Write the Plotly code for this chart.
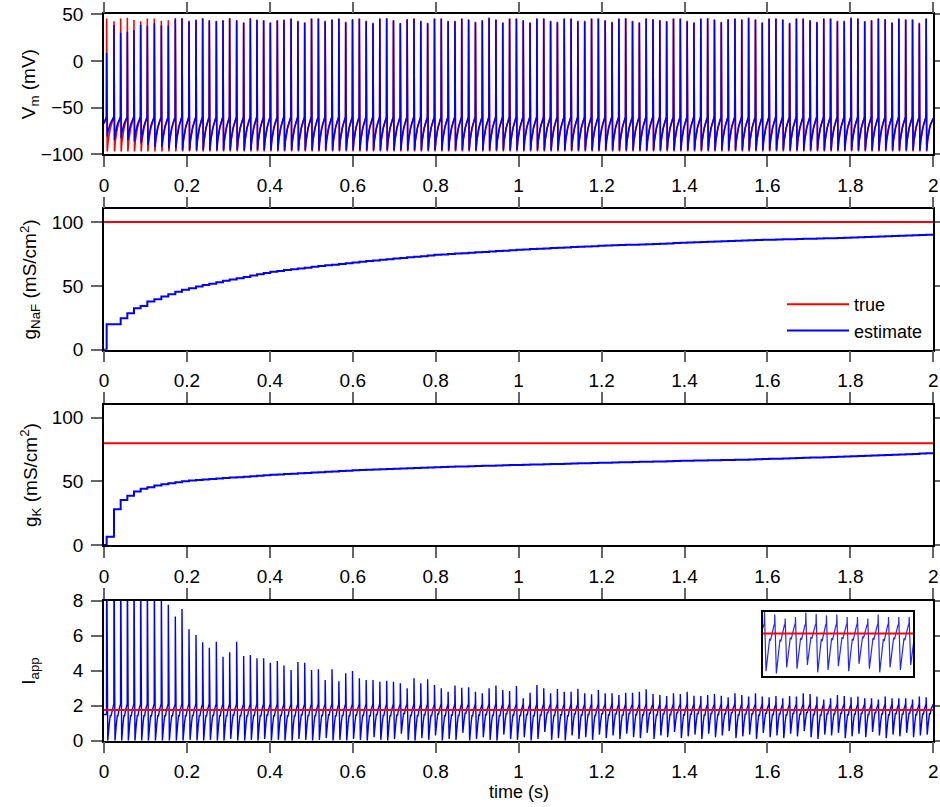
import plotly.graph_objects as go

# ---------------------------------------------------------------- data
# spike times (s), one entry per action potential
spike_t = [
    0.0064, 0.0241, 0.0402, 0.0563, 0.0723, 0.0884, 0.1045, 0.1214, 0.1383, 0.1551,
    0.1720, 0.1881, 0.2050, 0.2219, 0.2379, 0.2540, 0.2709, 0.2870, 0.3030, 0.3199,
    0.3368, 0.3529, 0.3689, 0.3850, 0.4011, 0.4180, 0.4340, 0.4511, 0.4676, 0.4840,
    0.5005, 0.5170, 0.5334, 0.5499, 0.5664, 0.5829, 0.5993, 0.6158, 0.6323, 0.6487,
    0.6652, 0.6817, 0.6981, 0.7146, 0.7311, 0.7476, 0.7640, 0.7805, 0.7970, 0.8134,
    0.8299, 0.8464, 0.8628, 0.8793, 0.8958, 0.9123, 0.9287, 0.9452, 0.9617, 0.9781,
    0.9946, 1.0111, 1.0275, 1.0440, 1.0605, 1.0770, 1.0934, 1.1099, 1.1264, 1.1428,
    1.1593, 1.1758, 1.1922, 1.2087, 1.2252, 1.2417, 1.2581, 1.2746, 1.2911, 1.3075,
    1.3240, 1.3405, 1.3569, 1.3734, 1.3899, 1.4064, 1.4228, 1.4393, 1.4558, 1.4722,
    1.4887, 1.5052, 1.5216, 1.5381, 1.5546, 1.5711, 1.5875, 1.6040, 1.6205, 1.6369,
    1.6534, 1.6699, 1.6863, 1.7028, 1.7193, 1.7358, 1.7522, 1.7687, 1.7852, 1.8016,
    1.8181, 1.8346, 1.8510, 1.8675, 1.8840, 1.9005, 1.9169, 1.9334, 1.9499, 1.9663,
    1.9828,
]

# membrane potential: spike peaks (mV)
vm_true_peak = [
    45.5, 42.5, 45.5, 46.4, 44.0, 42.5, 45.5, 45.5, 43.0, 43.5, 46.0, 46.0, 43.0, 44.5,
    46.0, 44.0, 43.0, 44.0, 46.0, 44.0, 41.5, 46.0, 44.5, 44.0, 41.5, 44.0, 44.5,
    45.7, 43.2, 41.4, 45.7, 45.7, 43.2, 44.6, 45.7, 42.1, 45.0, 45.7, 43.2, 41.0, 45.7,
    46.0, 43.9,
    41.0, 45.0, 45.7, 43.2, 41.0, 45.7, 45.7, 43.2, 43.2, 45.7, 44.6, 42.1, 43.9, 46.7,
    44.6, 41.4, 45.7, 45.7, 43.9, 41.4, 45.7, 45.7, 43.2, 42.1, 45.7, 45.7, 43.2, 43.2,
    45.7, 45.7,
    43.9, 42.1, 45.7, 46.0, 43.2, 41.4, 45.7, 45.0, 43.9, 42.8, 45.7, 45.7, 43.2, 41.4,
    45.7, 46.0, 44.6, 42.1, 45.0, 45.7,
    44.6, 46.7, 44.6, 41.4, 45.7, 45.7, 44.6, 41.0, 45.7, 45.7, 43.9, 42.1, 45.7, 45.7,
    43.2, 43.2, 46.7, 45.7, 42.8, 43.9, 45.7, 45.0, 41.4, 45.7, 44.6, 44.6, 41.0, 45.7,
]
vm_est_peak_early = [8.9, 38.5, 30.3, 31.4, 33.2, 38.5, 37.5, 40.3, 38.0, 38.0, 44.5]
vm_est_peak_shortfall = 0.8          # later estimated peaks sit just under the true ones

# membrane potential: after-hyperpolarisation troughs (mV)
vm_true_trough = -97.0
vm_est_trough_early = [-81.0, -84.6, -82.8, -84.6, -86.4, -88.2, -90.0, -91.8, -91.8,
                       -93.6, -93.6]
vm_est_trough_late = -95.5
vm_start = -67.0
vm_threshold = -60.0
# recovery between spikes: (fraction of the interval, fraction trough -> threshold)
vm_recovery_phase = [0.20, 0.35, 0.50, 0.65, 0.80, 0.95]
vm_recovery_frac = [0.30, 0.52, 0.67, 0.78, 0.87, 0.96]

# conductance estimates after each spike (mS/cm^2)
gnaf_true = 100.0
gnaf_est = [
    19.9, 20.0, 24.6, 28.6, 32.5, 34.3, 37.7, 39.5, 41.6, 43.5, 45.5, 46.9, 48.2, 49.5,
    50.6, 51.7, 52.8, 54.0, 55.0, 56.0, 57.0, 58.2, 59.1, 60.0, 61.0, 61.7, 62.4, 63.1,
    63.7, 64.3, 64.9, 65.5, 66.1, 66.6, 67.2, 67.8, 68.4, 68.9, 69.4, 69.9, 70.4, 70.9,
    71.4, 71.9, 72.4, 72.9, 73.3, 73.8, 74.3, 74.6, 75.0, 75.3, 75.6, 76.0, 76.3, 76.6,
    77.0, 77.3, 77.6, 78.0, 78.3, 78.6, 78.8, 79.1, 79.3, 79.6, 79.9, 80.1, 80.4, 80.6,
    80.9, 81.1, 81.4, 81.6, 81.8, 82.0, 82.2, 82.3, 82.5, 82.7, 82.9, 83.1, 83.3, 83.5,
    83.7, 83.9, 84.1, 84.3, 84.5, 84.7, 84.9, 85.1, 85.3, 85.5, 85.7, 85.9, 86.1, 86.2,
    86.4, 86.5, 86.6, 86.8, 86.9, 87.0, 87.2, 87.3, 87.4, 87.6, 87.7, 87.9, 88.1, 88.3,
    88.5, 88.7, 88.9, 89.1, 89.3, 89.5, 89.6, 89.8, 90.0,
]
gk_true = 80.0
gk_est = [
    6.5, 28.1, 35.4, 38.6, 42.0, 44.1, 45.4, 46.7, 47.8, 48.6, 49.3, 50.0, 50.6, 51.0,
    51.4, 51.8, 52.2, 52.6, 53.0, 53.3, 53.6, 54.0, 54.4, 54.8, 55.1, 55.4, 55.7, 56.0,
    56.3, 56.6, 56.9, 57.2, 57.5, 57.8, 58.1, 58.4, 58.7, 58.9, 59.1, 59.3, 59.5, 59.7,
    59.9, 60.1, 60.3, 60.5, 60.7, 60.9, 61.1, 61.3, 61.4, 61.6, 61.7, 61.9, 62.0, 62.2,
    62.3, 62.5, 62.6, 62.8, 62.9, 63.0, 63.2, 63.3, 63.4, 63.6, 63.7, 63.9, 64.0, 64.2,
    64.3, 64.5, 64.6, 64.7, 64.9, 65.0, 65.1, 65.2, 65.4, 65.5, 65.6, 65.7, 65.8, 66.0,
    66.1, 66.2, 66.3, 66.4, 66.5, 66.6, 66.7, 66.8, 66.9, 67.0, 67.2, 67.3, 67.5, 67.7,
    67.8, 68.0, 68.2, 68.3, 68.5, 68.7, 68.8, 69.0, 69.2, 69.3, 69.5, 69.7, 69.9, 70.1,
    70.3, 70.5, 70.7, 70.9, 71.1, 71.3, 71.5, 71.8, 72.0,
]

# applied current: true value and estimate peaks / troughs per cycle
iapp_true = 1.75
iapp_peak = [
    12.0, 11.5, 11.0, 10.8, 10.2, 9.8, 9.4, 9.0, 8.6, 7.77,
    7.09, 7.53, 6.37, 6.04, 5.62, 5.31, 5.66, 4.80, 5.05, 5.66,
    4.84, 4.90, 4.71, 4.71, 4.46, 4.55, 4.29, 4.04, 4.50, 4.46,
    4.04, 4.08, 3.47, 4.08, 3.40, 3.85, 3.98, 3.57, 3.47, 3.47,
    3.37, 3.43, 3.37, 3.28, 2.99, 3.57, 3.28, 3.51, 3.18, 2.99,
    2.80, 3.15, 3.03, 3.05, 2.80, 2.71, 2.99, 3.15, 2.90, 2.84,
    3.13, 2.42, 2.74, 3.18, 2.99, 2.71, 2.95, 2.80, 2.80, 2.97,
    2.71, 2.65, 2.90, 2.71, 2.71, 2.61, 2.74, 2.74, 2.80, 2.94,
    2.67, 2.61, 2.55, 2.71, 2.67, 2.80, 2.57, 2.55, 2.61, 2.67,
    2.57, 2.48, 2.71, 2.61, 2.52, 2.71, 2.52, 2.48, 2.55, 2.42,
    2.55, 2.52, 2.71, 2.67, 2.52, 2.36, 2.42, 2.61, 2.55, 2.48,
    2.52, 2.42, 2.42, 2.36, 2.52, 2.42, 2.42, 2.42, 2.36, 2.52,
    2.48,
]
iapp_trough = [
    0.00, 0.00, 0.00, 0.00, 0.00, 0.00, 0.00, 0.00, 0.00, 0.00,
    0.00, 0.00, 0.05, 0.00, 0.00, 0.05, 0.00, 0.00, 0.10, 0.00,
    0.00, 0.05, 0.00, 0.10, 0.00, 0.05, 0.00, 0.00, 0.10, 0.05,
    0.00, 0.05, 0.15, 0.00, 0.05, 0.00, 0.10, 0.05, 0.00, 0.20,
    0.05, 0.00, 0.10, 0.40, 0.05, 0.00, 0.15, 0.05, 0.30, 0.00,
    0.10, 0.05, 0.45, 0.00, 0.10, 0.20, 0.05, 0.00, 0.35, 0.10,
    0.05, 0.20, 0.00, 0.10, 0.50, 0.05, 0.15, 0.00, 0.30, 0.10,
    0.20, 0.05, 0.35, 0.15, 0.30, 0.10, 0.40, 0.20, 0.15, 0.45,
    0.10, 0.30, 0.20, 0.50, 0.15, 0.25, 0.35, 0.10, 0.40, 0.20,
    0.30, 0.55, 0.15, 0.25, 0.35, 0.10, 0.45, 0.20, 0.30, 0.15,
    0.40, 0.25, 0.55, 0.20, 0.10, 0.35, 0.30, 0.45, 0.15, 0.25,
    0.40, 0.20, 0.50, 0.30, 0.15, 0.35, 0.25, 0.45, 0.20, 0.30,
    0.35,
]
iapp_start = 1.5
iapp_top = 2.1
iapp_fall_phase = 0.15
iapp_recovery_phase = [0.35, 0.50, 0.58, 0.75, 0.93]
iapp_recovery_frac = [0.45, 0.70, 0.66, 0.85, 1.00]

# axes
t_end = 2.0
x_ticks = [0, 0.2, 0.4, 0.6, 0.8, 1.0, 1.2, 1.4, 1.6, 1.8, 2.0]
x_tick_text = ["0", "0.2", "0.4", "0.6", "0.8", "1", "1.2", "1.4", "1.6", "1.8", "2"]
vm_ticks = [-100, -50, 0, 50]
vm_tick_text = ["\u2212100", "\u221250", "0", "50"]
g_ticks = [0, 50, 100]
iapp_ticks = [0, 2, 4, 6, 8]
inset_t_range = [1.70, 1.94]
inset_i_range = [0.0, 2.64]

RED = "#ff0000"
BLUE = "#0000ff"
FONT = "Liberation Sans, Arial, Helvetica, sans-serif"
FS = 19


# ---------------------------------------------------------------- traces
def interval(k):
    if k + 1 < len(spike_t):
        return spike_t[k + 1] - spike_t[k]
    return spike_t[k] - spike_t[k - 1]


def vm_trace(peaks, troughs):
    xs, ys = [0.0], [vm_start]
    for k, tk in enumerate(spike_t):
        T = interval(k)
        xs += [tk - 0.03 * T, tk, tk + 0.08 * T]
        ys += [vm_threshold, peaks[k], troughs[k]]
        for ph, fr in zip(vm_recovery_phase, vm_recovery_frac):
            xs.append(tk + ph * T)
            ys.append(troughs[k] + fr * (vm_threshold - troughs[k]))
    xs.append(t_end)
    ys.append(ys[-1])
    return xs, ys


def iapp_trace():
    xs, ys = [0.0], [iapp_start]
    for k, tk in enumerate(spike_t):
        T = interval(k)
        lo = iapp_trough[k]
        xs += [tk - 0.02 * T, tk, tk + iapp_fall_phase * T]
        ys += [iapp_top if k else iapp_start, iapp_peak[k], lo]
        for ph, fr in zip(iapp_recovery_phase, iapp_recovery_frac):
            xs.append(tk + ph * T)
            ys.append(lo + fr * (iapp_top - lo))
    xs.append(t_end)
    ys.append(ys[-1])
    return xs, ys


n_spk = len(spike_t)
vm_est_peak = vm_est_peak_early + [p - vm_est_peak_shortfall
                                   for p in vm_true_peak[len(vm_est_peak_early):]]
vm_est_trough = vm_est_trough_early + [vm_est_trough_late] * (n_spk - len(vm_est_trough_early))

vt_x, vt_y = vm_trace(vm_true_peak, [vm_true_trough] * n_spk)
ve_x, ve_y = vm_trace(vm_est_peak, vm_est_trough)
ia_x, ia_y = iapp_trace()

step_x = [0.0] + spike_t + [t_end]
gnaf_y = [0.0] + gnaf_est + [gnaf_est[-1]]
gk_y = [0.0] + gk_est + [gk_est[-1]]

fig = go.Figure()
line_w = 1.6

fig.add_trace(go.Scatter(x=vt_x, y=vt_y, mode="lines", line=dict(color=RED, width=line_w),
                         xaxis="x", yaxis="y", showlegend=False))
fig.add_trace(go.Scatter(x=ve_x, y=ve_y, mode="lines", line=dict(color=BLUE, width=line_w),
                         xaxis="x", yaxis="y", showlegend=False))

fig.add_trace(go.Scatter(x=[0, t_end], y=[gnaf_true, gnaf_true], mode="lines", name="true",
                         line=dict(color=RED, width=2), xaxis="x2", yaxis="y2"))
fig.add_trace(go.Scatter(x=step_x, y=gnaf_y, mode="lines", name="estimate", line_shape="hv",
                         line=dict(color=BLUE, width=2), xaxis="x2", yaxis="y2"))

fig.add_trace(go.Scatter(x=[0, t_end], y=[gk_true, gk_true], mode="lines",
                         line=dict(color=RED, width=2), xaxis="x3", yaxis="y3", showlegend=False))
fig.add_trace(go.Scatter(x=step_x, y=gk_y, mode="lines", line_shape="hv",
                         line=dict(color=BLUE, width=2), xaxis="x3", yaxis="y3", showlegend=False))

fig.add_trace(go.Scatter(x=ia_x, y=ia_y, mode="lines", line=dict(color=BLUE, width=1.4),
                         xaxis="x4", yaxis="y4", showlegend=False))
fig.add_trace(go.Scatter(x=[0, t_end], y=[iapp_true, iapp_true], mode="lines",
                         line=dict(color=RED, width=2), xaxis="x4", yaxis="y4", showlegend=False))

fig.add_trace(go.Scatter(x=ia_x, y=ia_y, mode="lines", line=dict(color=BLUE, width=1.2),
                         opacity=0.85, xaxis="x5", yaxis="y5", showlegend=False))
fig.add_trace(go.Scatter(x=inset_t_range, y=[iapp_true, iapp_true], mode="lines",
                         line=dict(color=RED, width=2), xaxis="x5", yaxis="y5", showlegend=False))

# ---------------------------------------------------------------- layout
W, H = 940, 807
x_dom = [104 / W, 933.3 / W]
panels = [(14.3, 154.3), (209.3, 349.7), (405.0, 545.0), (600.7, 740.7)]
y_doms = [[1 - b / H, 1 - t / H] for t, b in panels]

axis_common = dict(showline=True, linecolor="black", linewidth=1.5, mirror="ticks",
                   ticks="outside", ticklen=11, tickwidth=1.5, tickcolor="#666666",
                   showgrid=False, zeroline=False, automargin=False,
                   tickfont=dict(family=FONT, size=FS, color="black"))

layout = dict(width=W, height=H, margin=dict(l=0, r=0, t=0, b=0, pad=0, autoexpand=False),
              paper_bgcolor="white", plot_bgcolor="white", font=dict(family=FONT, size=FS))
y_specs = [
    dict(range=[-100, 50], tickvals=vm_ticks, ticktext=vm_tick_text),
    dict(range=[0, 110], tickvals=g_ticks),
    dict(range=[0, 110], tickvals=g_ticks),
    dict(range=[0, 8], tickvals=iapp_ticks),
]
for i in range(4):
    sfx = "" if i == 0 else str(i + 1)
    layout["xaxis" + sfx] = dict(axis_common, domain=x_dom, range=[0, t_end], anchor="y" + sfx,
                                 tickvals=x_ticks, ticktext=x_tick_text, ticklabelstandoff=2)
    layout["yaxis" + sfx] = dict(axis_common, domain=y_doms[i], anchor="x" + sfx,
                                 ticklabelstandoff=4, **y_specs[i])

layout["xaxis5"] = dict(domain=[762.7 / W, 913.3 / W], range=inset_t_range, anchor="y5",
                        showline=True, mirror=True, linecolor="black", linewidth=2,
                        showticklabels=False, ticks="", showgrid=False, zeroline=False,
                        automargin=False)
layout["yaxis5"] = dict(domain=[1 - 676 / H, 1 - 611.7 / H], range=inset_i_range, anchor="x5",
                        showline=True, mirror=True, linecolor="black", linewidth=2,
                        showticklabels=False, ticks="", showgrid=False, zeroline=False,
                        automargin=False)

layout["legend"] = dict(x=782 / W, y=1 - 286 / H, xanchor="left", yanchor="top",
                        bgcolor="rgba(0,0,0,0)",
                        font=dict(family=FONT, size=FS - 1, color="black"),
                        itemwidth=62, tracegroupgap=0)

titles = ["V<sub>m</sub> (mV)", "g<sub>NaF</sub> (mS/cm<sup>2</sup>)",
          "g<sub>K</sub> (mS/cm<sup>2</sup>)", "I<sub>app</sub>"]
annotations = []
for (top, bot), txt in zip(panels, titles):
    annotations.append(dict(text=txt, xref="paper", yref="paper", x=30 / W,
                            y=1 - (top + bot) / 2 / H, xanchor="center", yanchor="middle",
                            textangle=-90, showarrow=False,
                            font=dict(family=FONT, size=FS, color="black")))
annotations.append(dict(text="time (s)", xref="paper", yref="paper", x=518.5 / W,
                        y=1 - 792 / H, xanchor="center", yanchor="middle", showarrow=False,
                        font=dict(family=FONT, size=FS - 1, color="black")))
layout["annotations"] = annotations

fig.update_layout(**layout)
fig.write_html("out.html")
